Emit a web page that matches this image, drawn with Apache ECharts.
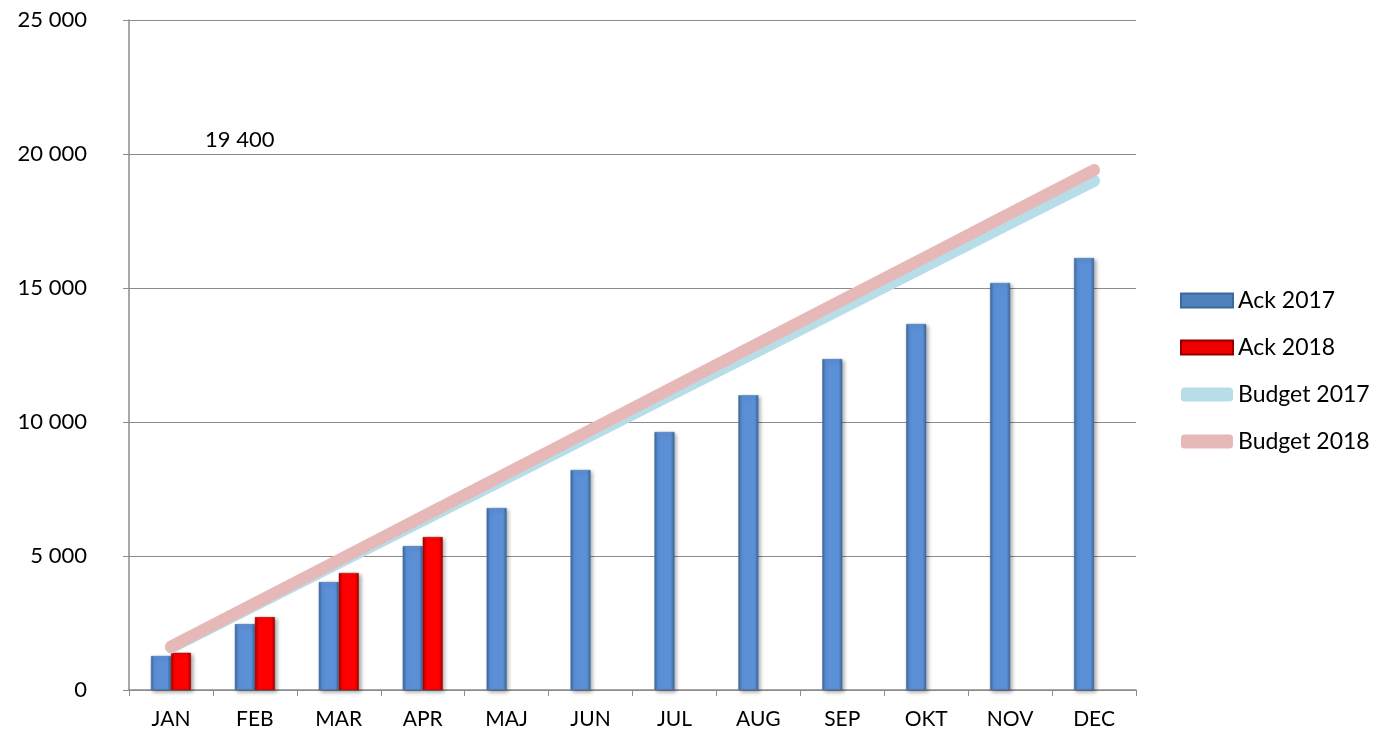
<!DOCTYPE html>
<html><head><meta charset="utf-8">
<script src="https://cdn.jsdelivr.net/npm/echarts@6/dist/echarts.min.js"></script>
<style>html,body{margin:0;padding:0;background:#fff}#c{width:1377px;height:739px}</style>
</head><body><div id="c"></div>
<script>
const months = ['JAN','FEB','MAR','APR','MAJ','JUN','JUL','AUG','SEP','OKT','NOV','DEC'];
const ack2017 = [1270, 2460, 4030, 5370, 6790, 8210, 9630, 11000, 12350, 13660, 15190, 16120];
const ack2018 = [1390, 2720, 4370, 5710, null, null, null, null, null, null, null, null];
const budget2017 = [1583, 3167, 4750, 6333, 7917, 9500, 11083, 12667, 14250, 15833, 17417, 19000];
const budget2018 = [1617, 3233, 4850, 6467, 8083, 9700, 11317, 12933, 14550, 16167, 17783, 19400];
const yTicks = [0, 5000, 10000, 15000, 20000, 25000];
const noteText = '19 400';

const font = 'Lato, "Open Sans", sans-serif';
const fmt = v => v === 0 ? '0' : String(v).replace(/\B(?=(\d{3})+(?!\d))/g, ' ');
const grad = (edge, mid) => new echarts.graphic.LinearGradient(0,0,1,0,[
  {offset:0,color:edge},{offset:0.18,color:mid},{offset:0.82,color:mid},{offset:1,color:edge}]);

const chart = echarts.init(document.getElementById('c'));
chart.setOption({
  animation:false,
  textStyle:{fontFamily:font},
  grid:{left:129,right:241,top:20,bottom:49},
  xAxis:{type:'category',data:months,boundaryGap:true,
    axisLine:{lineStyle:{color:'#8c8c8c',width:1.5}},
    axisTick:{show:true,length:6,lineStyle:{color:'#8c8c8c'}},
    axisLabel:{color:'#000',fontSize:21,margin:19,fontFamily:font}},
  yAxis:{type:'value',min:yTicks[0],max:yTicks[yTicks.length-1],interval:5000,
    axisLine:{show:true,lineStyle:{color:'#8c8c8c',width:1.5}},
    axisTick:{show:true,length:6,lineStyle:{color:'#8c8c8c'}},
    splitLine:{lineStyle:{color:'#8c8c8c',width:1.2}},
    axisLabel:{color:'#000',fontSize:22,margin:42,formatter:fmt,fontFamily:font}},
  legend:{orient:'vertical',left:1175,top:284,itemGap:24,itemWidth:52,itemHeight:14,
    textStyle:{fontSize:23,color:'#000',fontFamily:font},
    data:[
      {name:'Ack 2017',icon:'rect',itemStyle:{color:'#4f81bd'}},
      {name:'Ack 2018',icon:'rect',itemStyle:{color:'#ee0000'}},
      {name:'Budget 2017',icon:'roundRect',itemStyle:{color:'#b7dde8'}},
      {name:'Budget 2018',icon:'roundRect',itemStyle:{color:'#e6b9b8'}}
    ]},
  graphic:[{type:'text',left:205,top:129,style:{text:noteText,fontSize:22,fill:'#000',fontFamily:font}}],
  series:[
    {name:'Ack 2017',type:'bar',data:ack2017,barWidth:20,barGap:'0%',
      itemStyle:{color:grad('#3a679f','#5b8fd6'),borderColor:'#3d6a9e',borderWidth:0.5,
        shadowColor:'rgba(0,0,0,0.35)',shadowBlur:4,shadowOffsetX:2,shadowOffsetY:2}},
    {name:'Ack 2018',type:'bar',data:ack2018,barWidth:20,barGap:'0%',
      itemStyle:{color:grad('#a00000','#ff0000'),borderColor:'#900000',borderWidth:0.5,
        shadowColor:'rgba(0,0,0,0.35)',shadowBlur:4,shadowOffsetX:2,shadowOffsetY:2}},
    {name:'Budget 2017',type:'line',data:budget2017,symbol:'none',
      lineStyle:{color:'#b7dde8',width:12,cap:'round'},itemStyle:{color:'#b7dde8'},z:5},
    {name:'Budget 2018',type:'line',data:budget2018,symbol:'none',
      lineStyle:{color:'#e6b9b8',width:12,cap:'round'},itemStyle:{color:'#e6b9b8'},z:6}
  ]
});
</script></body></html>
